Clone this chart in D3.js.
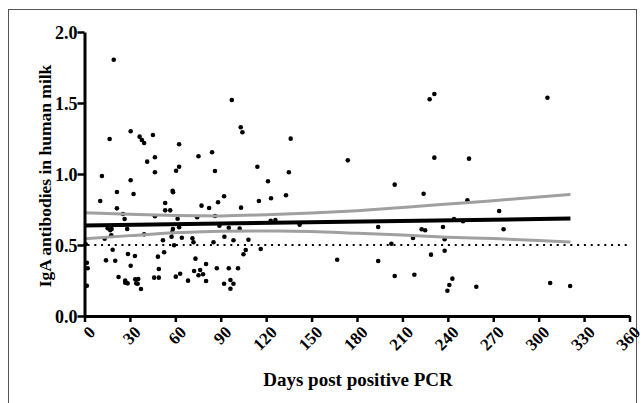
<!DOCTYPE html>
<html>
<head>
<meta charset="utf-8">
<script src="https://cdn.jsdelivr.net/npm/d3@7"></script>
<style>
  body { margin: 0; background: #fff; }
  text { font-family: "Liberation Serif", "Times New Roman", serif; font-weight: bold; }
</style>
</head>
<body>
<svg id="chart"></svg>
<script>
// days post PCR and IgA value for each sample
const days = [19.3, 16.6, 30.5, 36.4, 37.9, 39.4, 45.2, 41.4, 46.5, 46.5, 11.5, 30.5, 21.4, 32.4, 10.4, 21.4, 25.4, 26.5, 46.5,
    62.5, 75.3, 84.3, 62.5, 60.5, 86.2, 58.2, 58.5, 53.3, 53.3, 56.6, 77.3, 82.3, 88.2, 92.2, 61.5, 74.4, 86.2,
    15.3, 17.9, 17.0, 28.2, 13.3, 17.7, 39.4, 18.6, 28.7, 33.3, 14.2, 20.3, 30.5, 1.6, 2.1, 22.5, 26.9, 26.9, 28.5,
    33.5, 35.5, 34.2, 35.1, 37.3, 46.0, 1.6, 0.8,
    58.4, 57.9, 57.5, 62.5, 89.1, 51.8, 64.3, 71.3, 72.0, 85.2, 59.2, 52.6, 48.5, 73.3, 80.3, 49.1, 87.4, 72.4, 76.4,
    78.3, 75.3, 63.2, 60.3, 49.1, 68.4, 80.3, 92.2,
    114.2, 135.0, 121.2, 133.1, 123.2, 115.2, 103.4, 123.0, 126.1, 95.3, 102.5, 142.1, 92.4, 98.4, 108.3, 116.4,
    106.5, 105.0, 166.9, 95.3, 101.4, 96.4, 98.4, 96.4,
    97.3, 103.2, 104.3, 136.2, 173.9,
    228.0, 231.1, 231.1, 254.0, 204.9, 224.0, 252.9, 194.0, 222.7, 225.0, 236.8, 244.1, 250.0, 217.0, 237.9, 202.7,
    237.9, 228.9, 194.0, 204.9, 217.9, 243.0, 241.0, 239.7, 258.8,
    305.8, 273.9, 276.8, 307.6, 320.8];
const iga = [1.805, 1.246, 1.301, 1.263, 1.239, 1.218, 1.275, 1.087, 1.118, 1.012, 0.986, 0.956, 0.873, 0.859, 0.810, 0.758, 0.718, 0.683, 0.702,
    1.209, 1.125, 1.153, 1.051, 1.023, 1.021, 0.882, 0.871, 0.796, 0.744, 0.744, 0.777, 0.761, 0.801, 0.843, 0.685, 0.695, 0.704,
    0.618, 0.613, 0.604, 0.613, 0.544, 0.568, 0.575, 0.467, 0.437, 0.423, 0.392, 0.389, 0.354, 0.375, 0.336, 0.275, 0.249, 0.235, 0.230,
    0.258, 0.261, 0.230, 0.227, 0.190, 0.270, 0.213, 0.505,
    0.613, 0.589, 0.558, 0.625, 0.636, 0.533, 0.551, 0.547, 0.519, 0.519, 0.498, 0.449, 0.418, 0.404, 0.366, 0.331, 0.336, 0.317, 0.324,
    0.294, 0.287, 0.298, 0.277, 0.270, 0.249, 0.246, 0.227,
    1.051, 1.012, 0.949, 0.850, 0.829, 0.810, 0.763, 0.671, 0.676, 0.622, 0.615, 0.643, 0.558, 0.533, 0.537, 0.472,
    0.465, 0.435, 0.396, 0.336, 0.336, 0.254, 0.227, 0.192,
    1.521, 1.329, 1.294, 1.249, 1.096,
    1.526, 1.563, 1.115, 1.108, 0.925, 0.861, 0.815, 0.627, 0.611, 0.604, 0.627, 0.683, 0.667, 0.549, 0.540, 0.509,
    0.460, 0.432, 0.387, 0.282, 0.291, 0.263, 0.218, 0.178, 0.206,
    1.537, 0.739, 0.611, 0.232, 0.211];

// linear fit and its 95% band
const fitDays = [0, 321];
const fitValues = [0.637, 0.686];
const bandDays = [0, 30, 60, 90, 120, 150, 180, 210, 240, 270, 300, 321];
const bandUpper = [0.727, 0.716, 0.708, 0.705, 0.713, 0.726, 0.742, 0.764, 0.788, 0.812, 0.838, 0.857];
const bandLower = [0.544, 0.566, 0.586, 0.597, 0.598, 0.595, 0.583, 0.570, 0.555, 0.545, 0.532, 0.521];

const cutoff = 0.5;
const xTicks = d3.range(0, 361, 30);
const yTicks = [0, 0.5, 1.0, 1.5, 2.0];

const width = 643, height = 403;
const margin = {top: 32, right: 13.5, bottom: 87, left: 84.5};

const svg = d3.select("#chart").attr("width", width).attr("height", height);

svg.append("rect")
    .attr("x", 8.5).attr("y", 9.5)
    .attr("width", 628).attr("height", 400)
    .attr("fill", "none").attr("stroke", "#555").attr("stroke-width", 1);

const x = d3.scaleLinear().domain([0, 360]).range([margin.left, width - margin.right]);
const y = d3.scaleLinear().domain([0, 2]).range([height - margin.bottom, margin.top]);

// cutoff line
svg.append("line")
    .attr("x1", x(0) + 3).attr("x2", x(360))
    .attr("y1", y(cutoff)).attr("y2", y(cutoff))
    .attr("stroke", "#000").attr("stroke-width", 2)
    .attr("stroke-dasharray", "2 4.8");

const pts = days.map((d, i) => ({d: d, v: iga[i]}));
svg.append("g").selectAll("circle")
    .data(pts)
    .join("circle")
    .attr("cx", p => x(p.d))
    .attr("cy", p => y(p.v))
    .attr("r", 2.3)
    .attr("fill", "#000");

const line = d3.line().x(p => x(p[0])).y(p => y(p[1])).curve(d3.curveMonotoneX);

[bandUpper, bandLower].forEach(b => {
    svg.append("path")
        .datum(bandDays.map((d, i) => [d, b[i]]))
        .attr("d", line)
        .attr("fill", "none")
        .attr("stroke", "#a0a0a0")
        .attr("stroke-width", 3);
});

svg.append("path")
    .datum(fitDays.map((d, i) => [d, fitValues[i]]))
    .attr("d", line)
    .attr("fill", "none")
    .attr("stroke", "#000")
    .attr("stroke-width", 4);

// axes
const xAxis = svg.append("g")
    .attr("transform", `translate(0,${y(0)})`)
    .call(d3.axisBottom(x).tickValues(xTicks).tickSize(6).tickSizeOuter(0).tickFormat(d3.format("d")));
xAxis.select(".domain").attr("stroke-width", 3);
xAxis.selectAll(".tick line").attr("stroke-width", 2.5);
xAxis.selectAll(".tick text")
    .attr("font-size", 17)
    .attr("text-anchor", "end")
    .attr("dy", 0)
    .attr("transform", "translate(5,11) rotate(-45)");

const yAxis = svg.append("g")
    .attr("transform", `translate(${x(0)},0)`)
    .call(d3.axisLeft(y).tickValues(yTicks).tickSize(7).tickSizeOuter(0).tickFormat(d3.format(".1f")));
yAxis.select(".domain").attr("stroke-width", 3);
yAxis.selectAll(".tick line").attr("stroke-width", 2.5);
yAxis.selectAll(".tick text").attr("font-size", 18).attr("x", -7).attr("dy", "0.34em");

svg.append("text")
    .attr("x", 358).attr("y", 386)
    .attr("text-anchor", "middle")
    .attr("font-size", 19)
    .text("Days post positive PCR");

svg.append("text")
    .attr("transform", `translate(51,${(y(0) + y(2)) / 2 + 2}) rotate(-90)`)
    .attr("text-anchor", "middle")
    .attr("font-size", 17.5)
    .text("IgA antibodies in human milk");
</script>
</body>
</html>
